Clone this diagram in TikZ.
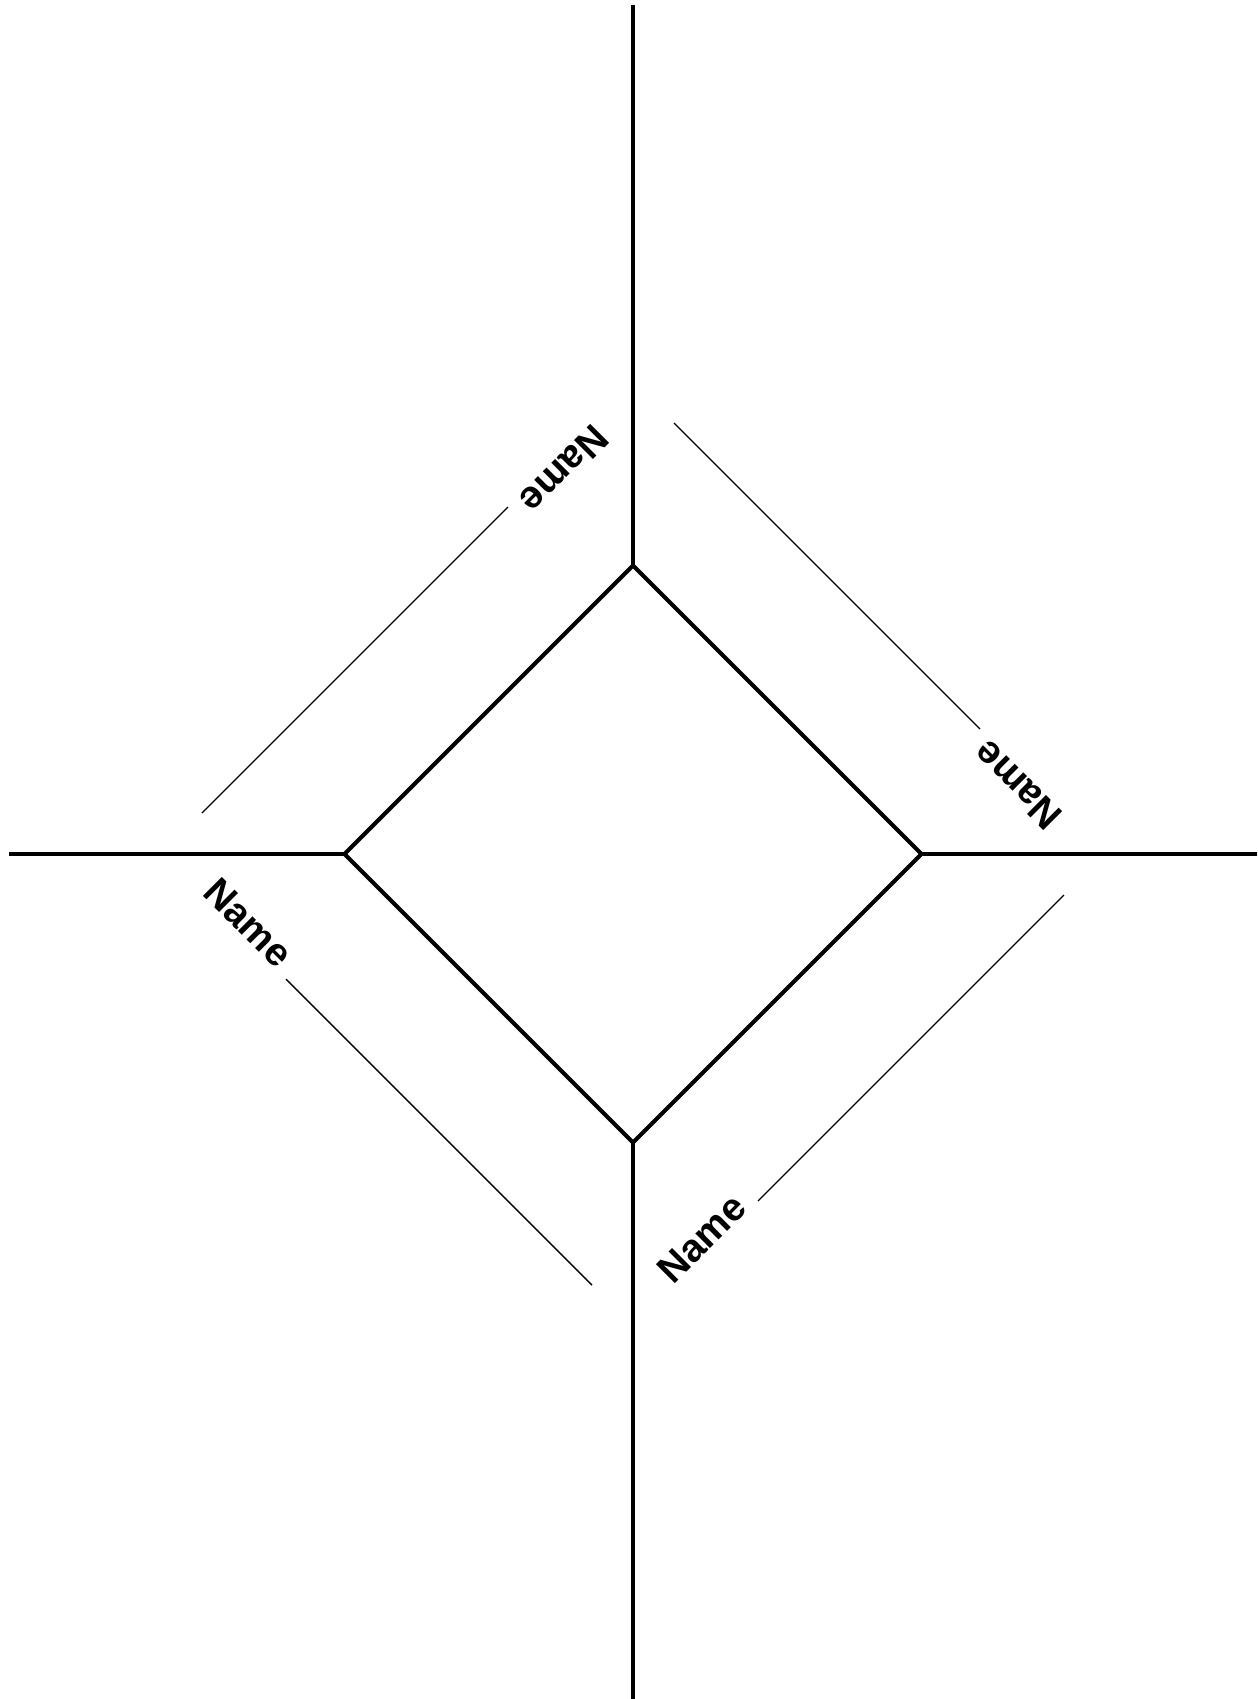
\documentclass[tikz,border=0pt]{standalone}
\usepackage{fontspec}
\setmainfont{Liberation Sans}
\begin{document}
\begin{tikzpicture}[x=0.5pt,y=0.5pt,
  heavy/.style={line width=2.1pt, line cap=butt, line join=miter},
  guide/.style={line width=0.7pt},
  lbl/.style={font=\fontsize{19.5}{20}\selectfont\bfseries, inner sep=0pt, anchor=base east}]
\useasboundingbox (-633,-845) rectangle (625,854);
% diamond corners
\coordinate (dN) at (0,288.5);
\coordinate (dE) at (288.5,0);
\coordinate (dS) at (0,-288.5);
\coordinate (dW) at (-288.5,0);
% free ends of the axis lines
\coordinate (eN) at (0,849);
\coordinate (eS) at (0,-846);
\coordinate (eW) at (-624,0);
\coordinate (eE) at (624,0);
\draw[heavy] (dN) -- (dE) -- (dS) -- (dW) -- cycle;
\draw[heavy] (eN) -- (dN);
\draw[heavy] (eS) -- (dS);
\draw[heavy] (eW) -- (dW);
\draw[heavy] (eE) -- (dE);
% guide lines with labels
\foreach \k in {0,1,2,3} {
  \pgfmathsetmacro\ang{-90*\k}
  \pgfmathsetmacro\tang{225-90*\k}
  \path[rotate=\ang] (-431,41) coordinate (ga\k);
  \path[rotate=\ang] (-125,347) coordinate (gb\k);
  \draw[guide] (ga\k) -- (gb\k);
  \path[rotate=\ang] (-115.8,356.2) node[lbl, rotate=\tang] (t\k) {Name};
}
\end{tikzpicture}
\end{document}
